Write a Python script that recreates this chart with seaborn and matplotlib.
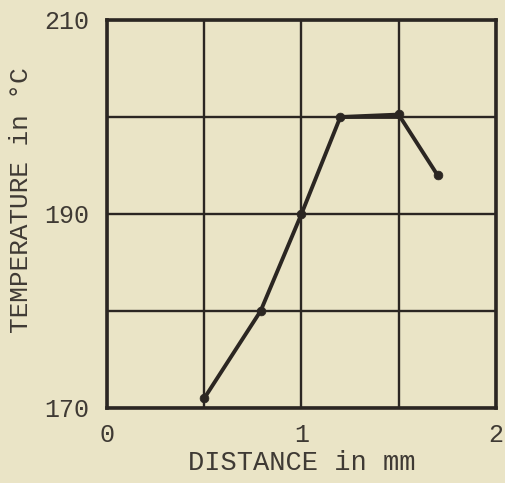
import matplotlib
matplotlib.use("Agg")
import matplotlib.pyplot as plt
import seaborn as sns
import pandas as pd

# Data
distance_mm = [0.5, 0.79, 1.0, 1.2, 1.5, 1.5, 1.7]
temperature_c = [171, 180, 190, 200, 200.5, 200, 194]
return_x = [1.2, 1.5]
return_y = [200, 200]
marker_x = [0.5, 0.79, 1.0, 1.2, 1.5, 1.7]
marker_y = [171, 180, 190, 200, 200.3, 194]
x_ticks = [0, 1, 2]
y_ticks = [170, 190, 210]

sns.set_theme(style="white")
bg = "#EAE4C6"
ink = "#2B2622"
text_col = "#3f3a34"
plt.rcParams['font.family'] = ['Liberation Mono', 'DejaVu Sans']

fig = plt.figure(figsize=(5.06, 4.83), dpi=100, facecolor=bg)
ax = fig.add_axes([0.2115, 0.1553, 0.7685, 0.8033])
ax.set_facecolor(bg)

df = pd.DataFrame({"x": distance_mm, "y": temperature_c})
sns.lineplot(data=df, x="x", y="y", sort=False, ax=ax, color=ink, linewidth=2.8)
sns.lineplot(x=return_x, y=return_y, sort=False, ax=ax, color=ink, linewidth=2.0)
sns.scatterplot(x=marker_x, y=marker_y, ax=ax, color=ink, s=40, edgecolor=ink, zorder=5)

ax.set_xlim(0, 2)
ax.set_ylim(170, 210)
ax.set_xticks(x_ticks)
ax.set_xticks([0.5, 1.5], minor=True)
ax.set_yticks(y_ticks)
ax.set_yticks([180, 200], minor=True)
ax.set_xticklabels([str(t) for t in x_ticks])
ax.set_yticklabels([str(t) for t in y_ticks])
ax.grid(True, which="both", color=ink, linewidth=1.7)
ax.tick_params(which="both", length=0)
ax.tick_params(axis="x", pad=11, labelsize=18, colors=text_col)
ax.tick_params(axis="y", pad=13, labelsize=18, colors=text_col)
for s in ax.spines.values():
    s.set_color(ink)
    s.set_linewidth(2.6)
    s.set_visible(True)

ax.set_xlabel("DISTANCE in mm", fontsize=19.5, color=text_col, labelpad=2)
ax.set_ylabel("TEMPERATURE in °C", fontsize=18.8, color=text_col)
ax.yaxis.set_label_coords(-0.19, 0.536)

fig.savefig("out.png", dpi=100, facecolor=bg)
